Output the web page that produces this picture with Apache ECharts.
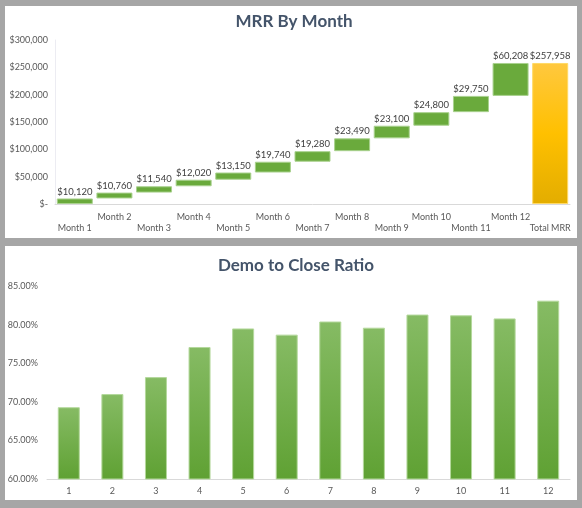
<!DOCTYPE html>
<html>
<head>
<meta charset="utf-8">
<script src="https://cdn.jsdelivr.net/npm/echarts@6/dist/echarts.min.js"></script>
<style>
html,body{margin:0;padding:0;background:#a6a6a6;}
#c{width:582px;height:508px;}
</style>
</head>
<body>
<div id="c"></div>
<script>
// ---- Data ----
const mrrCategories = ['Month 1','Month 2','Month 3','Month 4','Month 5','Month 6','Month 7','Month 8','Month 9','Month 10','Month 11','Month 12','Total MRR'];
const mrrValues = [10120, 10760, 11540, 12020, 13150, 19740, 19280, 23490, 23100, 24800, 29750, 60208];
const mrrTotal = 257958;
const mrrTicks = { min: 0, max: 300000, interval: 50000 };

const ratioCategories = ['1','2','3','4','5','6','7','8','9','10','11','12'];
const ratioValues = [69.3, 71.0, 73.2, 77.1, 79.5, 78.7, 80.4, 79.6, 81.3, 81.2, 80.8, 83.1];
const ratioTicks = { min: 60, max: 85, interval: 5 };

// ---- Derived ----
const baseVals = [];
let run = 0;
mrrValues.forEach(v => { baseVals.push(run); run += v; });
const baseSeries = baseVals.concat(['-']);
const stepSeries = mrrValues.concat(['-']);
const totalSeries = mrrValues.map(() => '-').concat([mrrTotal]);

const money = v => '$' + Number(v).toLocaleString('en-US');
const FONT = 'Lato';
const labelColor = '#595959';

const chart = echarts.init(document.getElementById('c'), null, {renderer: 'canvas'});
chart.setOption({
  backgroundColor: '#a6a6a6',
  animation: false,
  textStyle: { fontFamily: FONT },
  graphic: [
    { type: 'rect', z: -10, silent: true, shape: { x: 5, y: 6, width: 572, height: 232 }, style: { fill: '#ffffff' } },
    { type: 'rect', z: -10, silent: true, shape: { x: 5, y: 246, width: 572, height: 254 }, style: { fill: '#ffffff' } }
  ],
  title: [
    { text: 'MRR By Month', left: 289, top: 8, textAlign: 'center',
      textStyle: { fontFamily: FONT, fontSize: 17, fontWeight: 'bold', color: '#44546A' } },
    { text: 'Demo to Close Ratio', left: 291, top: 252, textAlign: 'center',
      textStyle: { fontFamily: FONT, fontSize: 17, fontWeight: 'bold', color: '#44546A' } }
  ],
  grid: [
    { left: 55, right: 12, top: 40, height: 164 },
    { left: 47, right: 12, top: 286, height: 193 }
  ],
  xAxis: [
    { type: 'category', gridIndex: 0, data: mrrCategories,
      axisLine: { lineStyle: { color: '#d9d9d9' } }, axisTick: { show: false },
      axisLabel: { interval: 0, margin: 7, fontSize: 9, color: labelColor, fontFamily: FONT, lineHeight: 11.6,
        formatter: (v, i) => (i % 2 === 0 ? '\n' + v : v) } },
    { type: 'category', gridIndex: 1, data: ratioCategories,
      axisLine: { lineStyle: { color: '#d9d9d9' } }, axisTick: { show: false },
      axisLabel: { interval: 0, margin: 8, fontSize: 9, color: labelColor, fontFamily: FONT } }
  ],
  yAxis: [
    { type: 'value', gridIndex: 0, min: mrrTicks.min, max: mrrTicks.max, interval: mrrTicks.interval,
      axisLine: { show: true, lineStyle: { color: '#ececf2' } }, axisTick: { show: false }, splitLine: { show: false },
      axisLabel: { margin: 7, fontSize: 9, color: labelColor, fontFamily: FONT,
        formatter: v => v === 0 ? '$-' : money(v) } },
    { type: 'value', gridIndex: 1, min: ratioTicks.min, max: ratioTicks.max, interval: ratioTicks.interval,
      axisLine: { show: false }, axisTick: { show: false }, splitLine: { show: false },
      axisLabel: { margin: 9, fontSize: 9, color: labelColor, fontFamily: FONT,
        formatter: v => v.toFixed(2) + '%' } }
  ],
  series: [
    { type: 'bar', xAxisIndex: 0, yAxisIndex: 0, stack: 'wf', data: baseSeries, barWidth: 36,
      itemStyle: { color: 'rgba(0,0,0,0)' }, silent: true },
    { type: 'bar', xAxisIndex: 0, yAxisIndex: 0, stack: 'wf', data: stepSeries, barWidth: 36,
      itemStyle: { color: '#6aaa3c', borderColor: '#a9d18e', borderWidth: 1 },
      label: { show: true, position: 'top', distance: 2, fontSize: 9.5, color: '#404040', fontFamily: FONT,
        formatter: p => money(p.value) } },
    { type: 'bar', xAxisIndex: 0, yAxisIndex: 0, stack: 'wf', data: totalSeries, barWidth: 36,
      itemStyle: {
        color: new echarts.graphic.LinearGradient(0, 0, 0, 1, [
          { offset: 0, color: '#ffc83f' }, { offset: 0.5, color: '#ffc000' }, { offset: 1, color: '#e3ad00' }
        ]),
        borderColor: '#ffd966', borderWidth: 1 },
      label: { show: true, position: 'top', distance: 2, fontSize: 9.5, color: '#404040', fontFamily: FONT,
        formatter: p => money(p.value) } },
    { type: 'bar', xAxisIndex: 1, yAxisIndex: 1, data: ratioValues, barWidth: 22,
      itemStyle: {
        color: new echarts.graphic.LinearGradient(0, 0, 0, 1, [
          { offset: 0, color: '#86bb64' }, { offset: 1, color: '#5fa133' }
        ]),
        borderColor: '#b4d89c', borderWidth: 1 } }
  ]
});
</script>
</body>
</html>
